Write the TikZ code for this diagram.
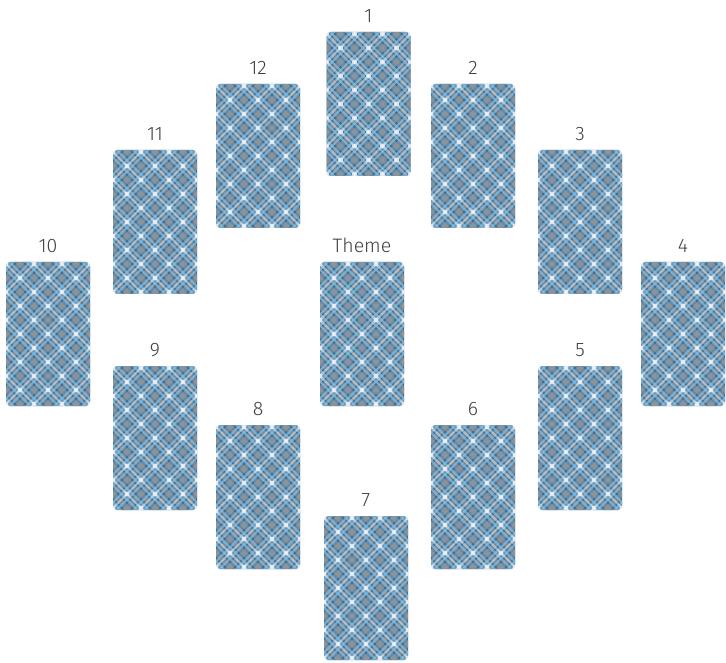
\documentclass[tikz,border=0pt]{standalone}
\usepackage{fontspec}
\setmainfont{Fira Sans Light}
\definecolor{cardbase}{HTML}{3F6B8C}
\definecolor{lightblue}{HTML}{8EC3E6}
\definecolor{stripegrey}{HTML}{9DA3A8}
\definecolor{labelgrey}{HTML}{3E3E3E}
\tikzset{
  plaid/.style={
    rectangle, rounded corners=4pt, minimum width=84pt, minimum height=144pt,
    inner sep=0pt, fill=cardbase,
    path picture={
      \begin{scope}[shift={(path picture bounding box.center)}]
        \foreach \o/\col/\w/\op in {14/stripegrey/5/0.5, 5.5/lightblue/2.4/0.65, -5.5/lightblue/2.4/0.65, 0/white/2.2/0.45}{
          \foreach \c in {-168,-140,...,168}{
            \draw[line width=\w pt, draw=\col, draw opacity=\op]
              ({(\c+\o-100)*1pt},{-100pt}) -- ({(\c+\o+100)*1pt},{100pt});
            \draw[line width=\w pt, draw=\col, draw opacity=\op]
              ({(\c+\o+100)*1pt},{-100pt}) -- ({(\c+\o-100)*1pt},{100pt});
          }
        }
        \foreach \i in {-84,-56,...,84}{
          \foreach \j in {-84,-56,...,84}{
            \fill[white, opacity=0.7] (\i pt,\j pt) circle (2.7pt);
            \fill[white, opacity=0.7] ({(\i+14)*1pt},{(\j+14)*1pt}) circle (2.7pt);
          }
        }
      \end{scope}
    }
  },
  cardlabel/.style={anchor=base, text=labelgrey, font=\fontsize{19.5pt}{22pt}\selectfont, inner sep=0pt}
}
\begin{document}
\begin{tikzpicture}[x=1pt,y=-1pt]
\useasboundingbox (0,0) rectangle (726,663);
\foreach \n/\x/\y/\t in {
  c1/368.5/104/1, c2/473/156/2, c3/580/222/3, c4/683/334/4,
  c5/580/438/5, c6/473/497/6, c7/366/588/7, c8/258/497/8,
  c9/155/438/9, c10/48/334/10, c11/155/222/11, c12/258/156/12,
  theme/362/334/Theme}{
  \node[plaid] (\n) at (\x,\y) {};
  \node[cardlabel] (\n-label) at ([yshift=9pt]\n.north) {\t};
}
\end{tikzpicture}
\end{document}
